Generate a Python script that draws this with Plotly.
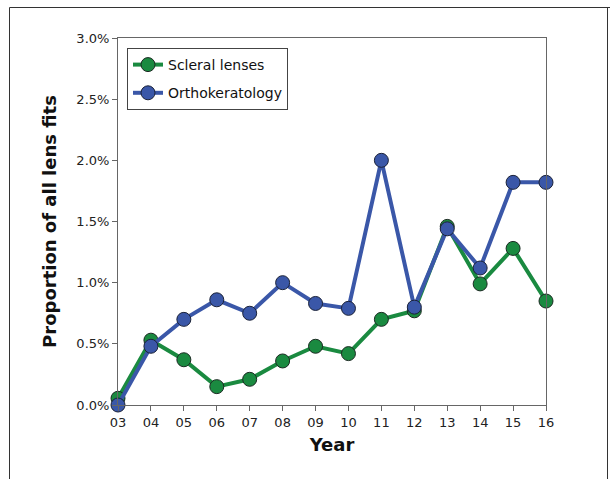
import plotly.graph_objects as go

years = ["03", "04", "05", "06", "07", "08", "09", "10", "11", "12", "13", "14", "15", "16"]
scleral = [0.055, 0.53, 0.37, 0.15, 0.21, 0.36, 0.48, 0.42, 0.70, 0.77, 1.46, 0.99, 1.28, 0.85]
ortho = [0.0, 0.48, 0.70, 0.86, 0.75, 1.00, 0.83, 0.79, 2.0, 0.80, 1.44, 1.12, 1.82, 1.82]
y_ticks = [0.0, 0.5, 1.0, 1.5, 2.0, 2.5, 3.0]
y_ticklabels = ["0.0%", "0.5%", "1.0%", "1.5%", "2.0%", "2.5%", "3.0%"]

xs = list(range(len(years)))
FONT = "DejaVu Sans"

fig = go.Figure()
fig.add_trace(go.Scatter(
    x=xs, y=scleral, name="Scleral lenses", mode="lines+markers",
    line=dict(color="#1a8a40", width=4),
    marker=dict(size=14, color="#1a8a40", line=dict(color="#1b2a22", width=1)),
    legendgroup="a", cliponaxis=False))
fig.add_trace(go.Scatter(
    x=xs, y=ortho, name="Orthokeratology", mode="lines+markers",
    line=dict(color="#3a57a8", width=4),
    marker=dict(size=14, color="#3a57a8", line=dict(color="#1b2238", width=1)),
    legendgroup="b", cliponaxis=False))

W, H = 610, 479
L, R, T, B = 118, 546, 38, 405
pw, ph = R - L, B - T

def px(x):
    return (x - L) / pw

def py(y):
    return (B - y) / ph

frame = dict(color="#333333", width=1)
fig.add_shape(type="line", xref="paper", yref="paper",
              x0=px(9.5), x1=px(620), y0=py(7.5), y1=py(7.5), line=frame, layer="above")
fig.add_shape(type="line", xref="paper", yref="paper",
              x0=px(9.5), x1=px(9.5), y0=py(7.5), y1=py(490), line=frame, layer="above")
fig.add_shape(type="line", xref="paper", yref="paper",
              x0=px(607.5), x1=px(607.5), y0=py(7.5), y1=py(490), line=frame, layer="above")

fig.update_layout(
    width=W, height=H,
    margin=dict(l=L, r=W - R, t=T, b=H - B, autoexpand=False),
    paper_bgcolor="white", plot_bgcolor="white",
    font=dict(family=FONT, color="#222222", size=13),
    showlegend=True,
    legend=dict(x=px(127), y=py(48), xanchor="left", yanchor="top",
                bordercolor="#444444", borderwidth=1, bgcolor="white",
                font=dict(family=FONT, size=14, color="#111111"),
                traceorder="grouped", tracegroupgap=7, itemwidth=30),
    xaxis=dict(range=[0, 13], tickvals=xs, ticktext=years, automargin=False,
               showgrid=False, zeroline=False, showline=True,
               linecolor="#666666", linewidth=1, mirror=True,
               ticks="outside", ticklen=5, tickcolor="#666666",
               tickfont=dict(size=13, family=FONT),
               title=dict(text="<b>Year</b>", font=dict(size=18, family=FONT, color="#111111"),
                          standoff=9)),
    yaxis=dict(range=[0, 3.0], tickvals=y_ticks, ticktext=y_ticklabels, automargin=False,
               showgrid=False, zeroline=False, showline=True,
               linecolor="#666666", linewidth=1, mirror=True,
               ticks="outside", ticklen=5, tickcolor="#666666",
               tickfont=dict(size=13, family=FONT),
               title=dict(text="<b>Proportion of all lens fits</b>",
                          font=dict(size=18, family=FONT, color="#111111"), standoff=15)),
)

fig.write_html("out.html", config={"displayModeBar": False},
               post_script="document.body.style.margin='0';")
